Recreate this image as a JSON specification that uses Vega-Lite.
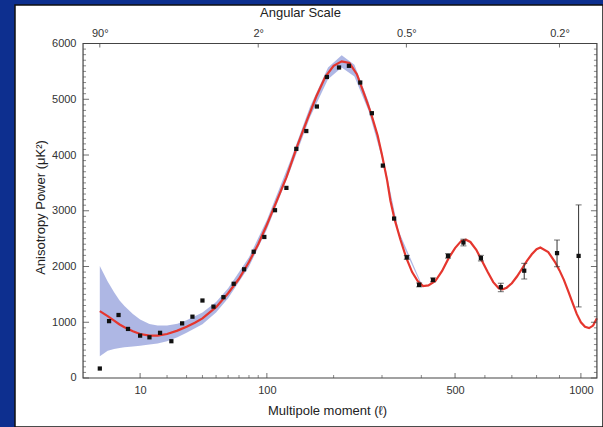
{
  "$schema": "https://vega.github.io/schema/vega-lite/v6.json",
  "width": 588,
  "height": 422,
  "autosize": {"type": "none"},
  "padding": {"left": 15, "top": 5, "right": 0, "bottom": 0},
  "background": "#0d2f8f",
  "config": {
    "view": {"fill": "white", "stroke": "#111", "strokeWidth": 1.5},
    "axis": {
      "labelFont": "Liberation Sans", "titleFont": "Liberation Sans",
      "labelColor": "#333", "titleColor": "#222",
      "labelFontSize": 11, "titleFontSize": 13, "titleFontWeight": "normal",
      "ticks": false, "grid": false, "domain": false
    }
  },
  "datasets": {
    "pts": [
      {"l": 2, "v": 170}, {"l": 3.2, "v": 1020}, {"l": 4.8, "v": 1130}, {"l": 6.8, "v": 880},
      {"l": 10, "v": 760}, {"l": 13, "v": 730}, {"l": 17, "v": 810}, {"l": 22, "v": 660},
      {"l": 27.5, "v": 980}, {"l": 33.5, "v": 1100}, {"l": 40, "v": 1390}, {"l": 48, "v": 1280},
      {"l": 56, "v": 1450}, {"l": 65, "v": 1690}, {"l": 75, "v": 1950}, {"l": 85, "v": 2265},
      {"l": 97, "v": 2530}, {"l": 110, "v": 3010}, {"l": 125, "v": 3410}, {"l": 139, "v": 4110},
      {"l": 154, "v": 4430}, {"l": 171, "v": 4870}, {"l": 188, "v": 5400}, {"l": 210, "v": 5570},
      {"l": 229, "v": 5600}, {"l": 252, "v": 5300}, {"l": 277, "v": 4750}, {"l": 302, "v": 3810},
      {"l": 329, "v": 2860}, {"l": 361, "v": 2165, "lo": 2130, "hi": 2200},
      {"l": 394, "v": 1670, "lo": 1635, "hi": 1705}, {"l": 433, "v": 1760, "lo": 1725, "hi": 1795},
      {"l": 478, "v": 2190, "lo": 2150, "hi": 2230}, {"l": 527, "v": 2430, "lo": 2370, "hi": 2490},
      {"l": 586, "v": 2150, "lo": 2100, "hi": 2200}, {"l": 658, "v": 1630, "lo": 1548, "hi": 1700},
      {"l": 749, "v": 1925, "lo": 1776, "hi": 2057}, {"l": 889, "v": 2240, "lo": 1996, "hi": 2475},
      {"l": 989, "v": 2190, "lo": 1275, "hi": 3105}
    ],
    "curve": [
      {"l": 2, "v": 1200}, {"l": 3, "v": 1110}, {"l": 4, "v": 1030}, {"l": 5, "v": 960},
      {"l": 6, "v": 910}, {"l": 8, "v": 840}, {"l": 10, "v": 790}, {"l": 13, "v": 760},
      {"l": 16, "v": 760}, {"l": 20, "v": 790}, {"l": 25, "v": 850}, {"l": 30, "v": 920},
      {"l": 35, "v": 990}, {"l": 40, "v": 1070}, {"l": 50, "v": 1270}, {"l": 60, "v": 1520},
      {"l": 70, "v": 1780}, {"l": 80, "v": 2080}, {"l": 90, "v": 2400}, {"l": 100, "v": 2750},
      {"l": 110, "v": 3100}, {"l": 125, "v": 3600}, {"l": 140, "v": 4150}, {"l": 155, "v": 4620},
      {"l": 170, "v": 5050}, {"l": 185, "v": 5400}, {"l": 200, "v": 5600}, {"l": 215, "v": 5680},
      {"l": 230, "v": 5650}, {"l": 245, "v": 5450}, {"l": 260, "v": 5100}, {"l": 275, "v": 4750},
      {"l": 290, "v": 4350}, {"l": 300, "v": 4000}, {"l": 312, "v": 3550}, {"l": 320, "v": 3180},
      {"l": 330, "v": 2850}, {"l": 345, "v": 2475}, {"l": 360, "v": 2150}, {"l": 375, "v": 1900},
      {"l": 390, "v": 1740}, {"l": 405, "v": 1650}, {"l": 420, "v": 1660}, {"l": 440, "v": 1740},
      {"l": 460, "v": 1920}, {"l": 480, "v": 2150}, {"l": 500, "v": 2330}, {"l": 520, "v": 2460},
      {"l": 535, "v": 2480}, {"l": 550, "v": 2440}, {"l": 570, "v": 2300}, {"l": 590, "v": 2100},
      {"l": 610, "v": 1900}, {"l": 630, "v": 1720}, {"l": 650, "v": 1610}, {"l": 665, "v": 1590},
      {"l": 680, "v": 1620}, {"l": 700, "v": 1700}, {"l": 720, "v": 1820}, {"l": 740, "v": 1960},
      {"l": 760, "v": 2100}, {"l": 780, "v": 2220}, {"l": 800, "v": 2310}, {"l": 816, "v": 2340},
      {"l": 850, "v": 2260}, {"l": 880, "v": 2080}, {"l": 900, "v": 1930}, {"l": 920, "v": 1760},
      {"l": 940, "v": 1560}, {"l": 960, "v": 1350}, {"l": 980, "v": 1150}, {"l": 1000, "v": 1000},
      {"l": 1020, "v": 920}, {"l": 1040, "v": 895}, {"l": 1060, "v": 940}, {"l": 1079, "v": 1070}
    ],
    "band": [
      {"l": 2, "lo": 390, "hi": 2010}, {"l": 3, "lo": 490, "hi": 1730}, {"l": 4, "lo": 520, "hi": 1540},
      {"l": 5, "lo": 540, "hi": 1390}, {"l": 6, "lo": 550, "hi": 1290}, {"l": 8, "lo": 565, "hi": 1150},
      {"l": 10, "lo": 580, "hi": 1050}, {"l": 13, "lo": 600, "hi": 970}, {"l": 16, "lo": 620, "hi": 940},
      {"l": 20, "lo": 660, "hi": 940}, {"l": 25, "lo": 730, "hi": 975}, {"l": 30, "lo": 810, "hi": 1035},
      {"l": 40, "lo": 965, "hi": 1175}, {"l": 50, "lo": 1175, "hi": 1365}, {"l": 60, "lo": 1430, "hi": 1610},
      {"l": 80, "lo": 1995, "hi": 2165}, {"l": 100, "lo": 2665, "hi": 2835}, {"l": 130, "lo": 3715, "hi": 3885},
      {"l": 160, "lo": 4680, "hi": 4870}, {"l": 190, "lo": 5360, "hi": 5570}, {"l": 215, "lo": 5570, "hi": 5790},
      {"l": 240, "lo": 5410, "hi": 5620}, {"l": 270, "lo": 4790, "hi": 4950}, {"l": 300, "lo": 3940, "hi": 4060},
      {"l": 340, "lo": 2560, "hi": 2640}, {"l": 400, "lo": 1660, "hi": 1700}
    ],
    "yt": [
      {"v": 0, "k": "major"}, {"v": 100, "k": "minor"}, {"v": 200, "k": "minor"}, {"v": 300, "k": "minor"}, {"v": 400, "k": "minor"}, {"v": 500, "k": "minor"}, {"v": 600, "k": "minor"}, {"v": 700, "k": "minor"}, {"v": 800, "k": "minor"}, {"v": 900, "k": "minor"},
      {"v": 1000, "k": "major"}, {"v": 1100, "k": "minor"}, {"v": 1200, "k": "minor"}, {"v": 1300, "k": "minor"}, {"v": 1400, "k": "minor"}, {"v": 1500, "k": "minor"}, {"v": 1600, "k": "minor"}, {"v": 1700, "k": "minor"}, {"v": 1800, "k": "minor"}, {"v": 1900, "k": "minor"},
      {"v": 2000, "k": "major"}, {"v": 2100, "k": "minor"}, {"v": 2200, "k": "minor"}, {"v": 2300, "k": "minor"}, {"v": 2400, "k": "minor"}, {"v": 2500, "k": "minor"}, {"v": 2600, "k": "minor"}, {"v": 2700, "k": "minor"}, {"v": 2800, "k": "minor"}, {"v": 2900, "k": "minor"},
      {"v": 3000, "k": "major"}, {"v": 3100, "k": "minor"}, {"v": 3200, "k": "minor"}, {"v": 3300, "k": "minor"}, {"v": 3400, "k": "minor"}, {"v": 3500, "k": "minor"}, {"v": 3600, "k": "minor"}, {"v": 3700, "k": "minor"}, {"v": 3800, "k": "minor"}, {"v": 3900, "k": "minor"},
      {"v": 4000, "k": "major"}, {"v": 4100, "k": "minor"}, {"v": 4200, "k": "minor"}, {"v": 4300, "k": "minor"}, {"v": 4400, "k": "minor"}, {"v": 4500, "k": "minor"}, {"v": 4600, "k": "minor"}, {"v": 4700, "k": "minor"}, {"v": 4800, "k": "minor"}, {"v": 4900, "k": "minor"},
      {"v": 5000, "k": "major"}, {"v": 5100, "k": "minor"}, {"v": 5200, "k": "minor"}, {"v": 5300, "k": "minor"}, {"v": 5400, "k": "minor"}, {"v": 5500, "k": "minor"}, {"v": 5600, "k": "minor"}, {"v": 5700, "k": "minor"}, {"v": 5800, "k": "minor"}, {"v": 5900, "k": "minor"},
      {"v": 6000, "k": "major"}
    ],
    "xt": [
      {"l": 10, "k": "major"}, {"l": 20, "k": "minor"}, {"l": 30, "k": "minor"}, {"l": 40, "k": "minor"}, {"l": 50, "k": "minor"}, {"l": 60, "k": "minor"}, {"l": 70, "k": "minor"}, {"l": 80, "k": "minor"}, {"l": 90, "k": "minor"},
      {"l": 100, "k": "major"}, {"l": 200, "k": "minor"}, {"l": 300, "k": "minor"}, {"l": 400, "k": "minor"}, {"l": 500, "k": "major"}, {"l": 600, "k": "minor"}, {"l": 700, "k": "minor"}, {"l": 800, "k": "minor"}, {"l": 900, "k": "minor"}, {"l": 1000, "k": "major"}
    ],
    "tt": [{"l": 2}, {"l": 90}, {"l": 360}, {"l": 900}]
  },
  "layer": [
    {
      "data": {"name": "band"},
      "mark": {"type": "area", "color": "#aab3e3", "opacity": 0.95},
      "encoding": {
        "x": {"field": "l", "type": "quantitative",
          "scale": {"type": "pow", "exponent": 0.394, "domain": [-1.379, 1110], "zero": false, "nice": false},
          "axis": {"orient": "bottom", "offset": -49, "values": [10, 100, 500, 1000], "format": "d",
            "labelPadding": 6, "title": "Multipole moment (ℓ)",
            "titleX": 312, "titleY": 32, "titleBaseline": "middle", "titleAlign": "center"}},
        "y": {"field": "lo", "type": "quantitative",
          "scale": {"domain": [-879, 6691], "zero": false, "nice": false},
          "axis": {"orient": "left", "offset": -68, "values": [0, 1000, 2000, 3000, 4000, 5000, 6000], "format": "d",
            "labelPadding": 7, "title": "Anisotropy Power (μK²)",
            "titleX": -43, "titleY": 202, "titleAngle": -90, "titleBaseline": "middle", "titleAlign": "center"}},
        "y2": {"field": "hi"}
      }
    },
    {
      "data": {"name": "curve"},
      "mark": {"type": "line", "color": "#e5362e", "strokeWidth": 2.2},
      "encoding": {
        "x": {"field": "l", "type": "quantitative", "axis": null},
        "y": {"field": "v", "type": "quantitative", "axis": null}
      }
    },
    {
      "data": {"name": "pts"},
      "transform": [{"filter": "isValid(datum.lo)"}],
      "mark": {"type": "rule", "color": "#333", "strokeWidth": 1},
      "encoding": {
        "x": {"field": "l", "type": "quantitative",
          "axis": {"orient": "top", "offset": -38.5, "values": [2, 90, 360, 900],
            "labelExpr": "datum.value == 2 ? '90°' : datum.value == 90 ? '2°' : datum.value == 360 ? '0.5°' : '0.2°'",
            "labelPadding": 5, "title": "Angular Scale",
            "titleX": 285, "titleY": -31.5, "titleBaseline": "middle", "titleAlign": "center"}},
        "y": {"field": "lo", "type": "quantitative", "axis": null},
        "y2": {"field": "hi"}
      }
    },
    {
      "data": {"name": "pts"},
      "transform": [{"filter": "isValid(datum.lo)"}],
      "mark": {"type": "tick", "orient": "horizontal", "size": 6, "thickness": 1, "color": "#333"},
      "encoding": {
        "x": {"field": "l", "type": "quantitative", "axis": null},
        "y": {"field": "lo", "type": "quantitative", "axis": null}
      }
    },
    {
      "data": {"name": "pts"},
      "transform": [{"filter": "isValid(datum.hi)"}],
      "mark": {"type": "tick", "orient": "horizontal", "size": 6, "thickness": 1, "color": "#333"},
      "encoding": {
        "x": {"field": "l", "type": "quantitative", "axis": null},
        "y": {"field": "hi", "type": "quantitative", "axis": null}
      }
    },
    {
      "data": {"name": "pts"},
      "mark": {"type": "point", "filled": true, "shape": "square", "size": 18, "color": "#111", "opacity": 1},
      "encoding": {
        "x": {"field": "l", "type": "quantitative", "axis": null},
        "y": {"field": "v", "type": "quantitative", "axis": null}
      }
    },
    {
      "data": {"name": "yt"},
      "transform": [{"filter": "datum.k == 'major'"}],
      "mark": {"type": "tick", "orient": "horizontal", "size": 6, "thickness": 1, "color": "#333", "xOffset": 3},
      "encoding": {
        "x": {"datum": 0.623, "type": "quantitative", "axis": null},
        "y": {"field": "v", "type": "quantitative", "axis": null}
      }
    },
    {
      "data": {"name": "yt"},
      "transform": [{"filter": "datum.k == 'minor'"}],
      "mark": {"type": "tick", "orient": "horizontal", "size": 3, "thickness": 1, "color": "#555", "xOffset": 1.5},
      "encoding": {
        "x": {"datum": 0.623, "type": "quantitative", "axis": null},
        "y": {"field": "v", "type": "quantitative", "axis": null}
      }
    },
    {
      "data": {"name": "yt"},
      "transform": [{"filter": "datum.k == 'major'"}],
      "mark": {"type": "tick", "orient": "horizontal", "size": 6, "thickness": 1, "color": "#333", "xOffset": -3},
      "encoding": {
        "x": {"datum": 1079, "type": "quantitative", "axis": null},
        "y": {"field": "v", "type": "quantitative", "axis": null}
      }
    },
    {
      "data": {"name": "yt"},
      "transform": [{"filter": "datum.k == 'minor'"}],
      "mark": {"type": "tick", "orient": "horizontal", "size": 3, "thickness": 1, "color": "#555", "xOffset": -1.5},
      "encoding": {
        "x": {"datum": 1079, "type": "quantitative", "axis": null},
        "y": {"field": "v", "type": "quantitative", "axis": null}
      }
    },
    {
      "data": {"name": "xt"},
      "transform": [{"filter": "datum.k == 'major'"}],
      "mark": {"type": "tick", "orient": "vertical", "size": 5, "thickness": 1, "color": "#333", "yOffset": -2.5},
      "encoding": {
        "x": {"field": "l", "type": "quantitative", "axis": null},
        "y": {"datum": 0, "type": "quantitative", "axis": null}
      }
    },
    {
      "data": {"name": "xt"},
      "transform": [{"filter": "datum.k == 'minor'"}],
      "mark": {"type": "tick", "orient": "vertical", "size": 3, "thickness": 1, "color": "#555", "yOffset": -1.5},
      "encoding": {
        "x": {"field": "l", "type": "quantitative", "axis": null},
        "y": {"datum": 0, "type": "quantitative", "axis": null}
      }
    },
    {
      "data": {"name": "tt"},
      "mark": {"type": "tick", "orient": "vertical", "size": 4, "thickness": 1, "color": "#333", "yOffset": 2},
      "encoding": {
        "x": {"field": "l", "type": "quantitative", "axis": null},
        "y": {"datum": 6000, "type": "quantitative", "axis": null}
      }
    },
    {
      "data": {"values": [{}]},
      "mark": {"type": "rect", "fill": "transparent", "stroke": "#444", "strokeWidth": 1.2},
      "encoding": {
        "x": {"datum": 0.623, "type": "quantitative", "axis": null},
        "x2": {"datum": 1079},
        "y": {"datum": 0, "type": "quantitative", "axis": null},
        "y2": {"datum": 6000}
      }
    }
  ],
  "resolve": {"axis": {"x": "independent", "y": "independent"}}
}
